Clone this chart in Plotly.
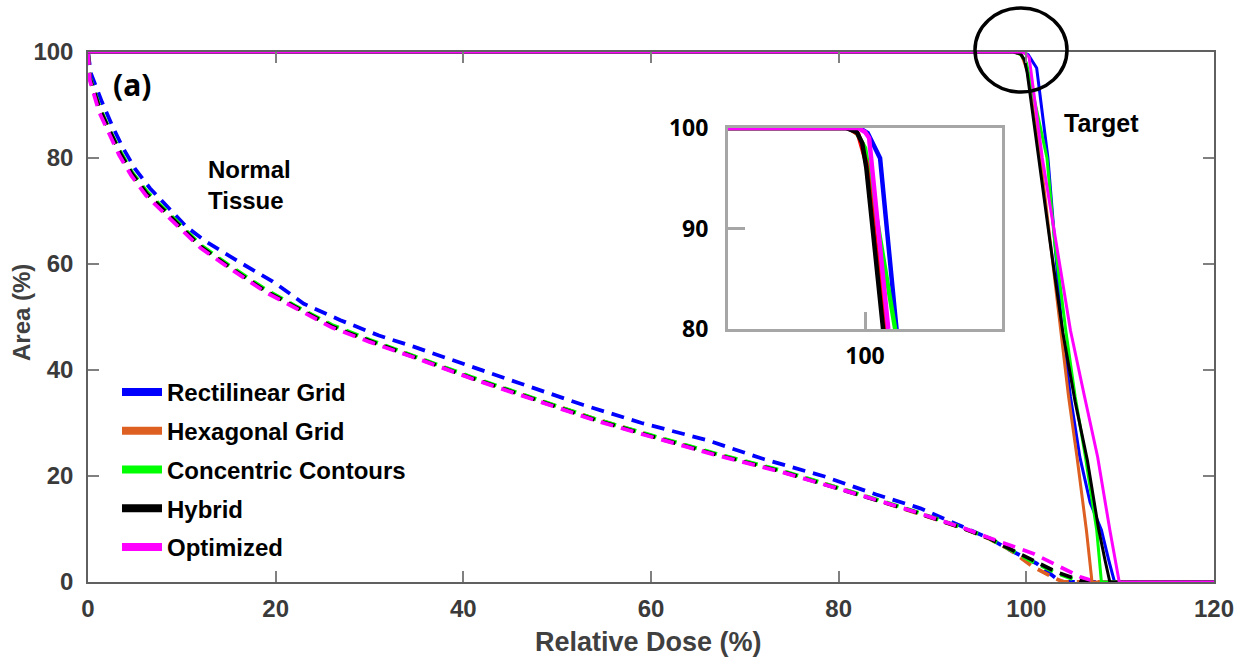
import plotly.graph_objects as go

# ---- dose-area histogram data (relative dose %, area %) ----
series_names = ["Rectilinear Grid", "Hexagonal Grid", "Concentric Contours", "Hybrid", "Optimized"]
series_colors = ["#0000FF", "#DD5F22", "#00FF00", "#000000", "#FF00FF"]
inset_colors = ["#0000FF", "#FF0000", "#00FF00", "#000000", "#FF00FF"]

# Target (solid curves)
rect_tx = [0, 99.6, 100.2, 101.1, 102.3, 103.0, 103.8, 104.7, 105.7, 106.8, 108.0, 108.8, 109.4, 120]
rect_ty = [100, 100, 99.5, 97, 80, 64, 47.5, 35, 23.6, 15, 9.8, 4, 0, 0]
hex_tx = [0, 98.8, 99.5, 100.1, 101.5, 102.5, 103.6, 104.5, 105.4, 106.0, 106.4, 107.0, 120]
hex_ty = [100, 100, 99.4, 96.5, 80, 65, 47.5, 35, 23.6, 15, 9.8, 0, 0]
conc_tx = [0, 98.8, 99.4, 100.0, 102.2, 103.0, 104.2, 105.2, 106.3, 107.5, 108.0, 120]
conc_ty = [100, 100, 99.5, 98, 80, 64.5, 47.5, 35, 23.6, 9.8, 0, 0]
hyb_tx = [0, 98.6, 99.4, 99.8, 100.1, 101.3, 102.5, 103.9, 105.2, 106.5, 107.7, 108.4, 108.9, 120]
hyb_ty = [100, 100, 99.6, 98.5, 96, 80, 64.5, 47, 34, 23, 10, 4, 0, 0]
opt_tx = [0, 99.5, 100.0, 100.3, 101.7, 103.1, 104.7, 106.2, 107.6, 108.9, 109.4, 109.9, 120]
opt_ty = [100, 100, 99.6, 99, 80, 64.5, 47.5, 35, 23.6, 9.8, 5, 0, 0]

# Normal tissue (dashed curves)
rect_nx = [0, 0.3, 1.5, 2.6, 3.7, 5, 6.6, 8.6, 10.5, 12.6, 16, 19.7, 23, 26.9, 31, 34.7, 40, 46, 52.8,
           59, 65.9, 72, 78.5, 84, 88.7, 93.3, 96.1, 98.6, 101.1, 103.4, 104, 120]
rect_ny = [100, 96, 90.5, 86, 82, 78, 74.3, 70.5, 67, 64.2, 60.5, 56.7, 52.5, 49.4, 46.5, 44.4, 41.1, 37.5, 33.4,
           30, 26.8, 23.2, 19.9, 16.5, 13.9, 10.3, 8.2, 5.7, 3.5, 0.4, 0, 0]
hex_nx = [0, 0.2, 1.3, 2.3, 3.4, 4.7, 6.3, 8.4, 10.5, 12, 15, 19, 22, 26, 30, 34.7, 41, 47, 54,
          60, 67, 74, 80.5, 84, 88, 93.3, 96.1, 98.3, 100.6, 102.9, 104, 120]
hex_ny = [100, 95, 89, 85, 81.2, 76.6, 73.2, 69.4, 65.8, 63.3, 59.6, 54.9, 51.9, 48.3, 45.4, 42.6, 38.4, 34.9, 30.8,
          27.6, 24.1, 20.8, 17.5, 15.5, 13.2, 10.1, 8.1, 6.0, 3.0, 0.8, 0, 0]
conc_nx = [0, 0.2, 1.3, 2.3, 3.4, 4.7, 6.3, 8.4, 10.5, 12, 15, 19, 22, 26, 30, 34.7, 41, 47, 54,
           60, 67, 74, 80.5, 84, 88, 93.3, 96.1, 98.3, 100.7, 103.2, 105.5, 106.2, 120]
conc_ny = [100, 95.2, 89.3, 85.3, 81.4, 77.3, 73.6, 70.0, 66.3, 63.6, 59.8, 55.1, 52.2, 48.5, 45.7, 42.7, 38.6, 35.0, 30.8,
           27.7, 24.2, 21.0, 17.6, 15.6, 13.4, 10.2, 8.2, 6.0, 3.8, 1.7, 0.2, 0, 0]
hyb_nx = [0, 0.2, 1.3, 2.3, 3.4, 4.7, 6.3, 8.4, 10.5, 12, 15, 19, 22, 26, 30, 34.7, 41, 47, 54,
          60, 67, 74, 80.5, 84, 88, 93.3, 96.1, 98.3, 100.7, 103.2, 105.7, 106.5, 120]
hyb_ny = [100, 95, 89, 85, 81, 77, 73.2, 69.6, 66, 63.3, 59.5, 54.8, 52, 48.2, 45.5, 42.5, 38.4, 34.8, 30.6,
          27.5, 24, 20.8, 17.4, 15.5, 13.3, 10.1, 8.2, 6.2, 4.0, 1.9, 0.3, 0, 0]
opt_nx = [0, 0.2, 1.2, 2.2, 3.3, 4.6, 6.2, 8.3, 10.4, 12, 15, 19, 22, 26, 30, 34.7, 41, 47, 54,
          60, 67, 74, 80.5, 84, 88, 93.3, 96.1, 98.3, 100.7, 103.2, 105.7, 107.5, 120]
opt_ny = [100, 94.6, 88.6, 84.6, 80.6, 76.7, 72.9, 69.3, 65.7, 63.0, 59.3, 54.6, 51.8, 48.0, 45.3, 42.4, 38.3, 34.7, 30.5,
          27.4, 23.9, 20.7, 17.4, 15.5, 13.3, 10.2, 8.3, 7.0, 5.4, 3.2, 1.0, 0, 0]

target_x = [rect_tx, hex_tx, conc_tx, hyb_tx, opt_tx]
target_y = [rect_ty, hex_ty, conc_ty, hyb_ty, opt_ty]
normal_x = [rect_nx, hex_nx, conc_nx, hyb_nx, opt_nx]
normal_y = [rect_ny, hex_ny, conc_ny, hyb_ny, opt_ny]

x_ticks = [0, 20, 40, 60, 80, 100, 120]
y_ticks = [0, 20, 40, 60, 80, 100]
inset_x_ticks = [100]
inset_y_ticks = [80, 90, 100]

# ---- geometry (pixels) ----
W, H = 1244, 664
ML, MR, MT, MB = 70, 10, 30, 60
PW, PH = W - ML - MR, H - MT - MB


def px_x(p):
    return (p - ML) / PW


def px_y(p):
    return (H - MB - p) / PH


# main frame: x 0..120 at px 88..1214, y 0..100 at px 582..52
FX0, FX1, FY0, FY1 = 88, 1214, 582, 52
sx = (FX1 - FX0) / 120.0
sy = (FY0 - FY1) / 100.0
data_xr = [(ML - FX0) / sx, (ML + PW - FX0) / sx]
data_yr = [(FY0 - (MT + PH)) / sy, (FY0 - MT) / sy]

# inset frame: x 90..110 at px 728..1002, y 80..100 at px 329..128
IX0, IX1, IY0, IY1 = 728, 1002, 329, 128
isx = (IX1 - IX0) / 20.0
isy = (IY0 - IY1) / 20.0
pad_l, pad_r, pad_b, pad_t = 1.5, 4, 1.5, 4

FONT = "Liberation Sans, Arial, sans-serif"
INSET_FONT = "Noto Sans, Open Sans, sans-serif"

fig = go.Figure()

# dashed normal-tissue curves
for i in range(5):
    fig.add_trace(go.Scatter(
        x=normal_x[i], y=normal_y[i], mode="lines",
        line=dict(color=series_colors[i], width=3.8, dash="13px,8px"),
        showlegend=False, hoverinfo="skip", xaxis="x", yaxis="y"))

# solid target curves
for i in range(5):
    fig.add_trace(go.Scatter(
        x=target_x[i], y=target_y[i], mode="lines",
        line=dict(color=series_colors[i], width=3),
        showlegend=False, hoverinfo="skip", xaxis="x", yaxis="y"))

# legend entries
for i in range(5):
    fig.add_trace(go.Scatter(
        x=[None], y=[None], mode="lines", name=series_names[i],
        line=dict(color=series_colors[i], width=8),
        legendgroup="g%d" % i, showlegend=True, xaxis="x", yaxis="y"))

# frame axes for the main panel
fig.add_trace(go.Scatter(x=[None], y=[None], xaxis="x3", yaxis="y3", showlegend=False, hoverinfo="skip"))

# inset: zoom on the shoulder of the target curves
inset_order = [0, 2, 1, 3, 4]
for i in inset_order:
    fig.add_trace(go.Scatter(
        x=target_x[i], y=target_y[i], mode="lines",
        line=dict(color=inset_colors[i], width=4.5),
        showlegend=False, hoverinfo="skip", xaxis="x2", yaxis="y2"))
fig.add_trace(go.Scatter(x=[None], y=[None], xaxis="x4", yaxis="y4", showlegend=False, hoverinfo="skip"))

hidden = dict(visible=False, showgrid=False, zeroline=False, fixedrange=True)

fig.update_layout(
    width=W, height=H,
    margin=dict(l=ML, r=MR, t=MT, b=MB, autoexpand=False),
    paper_bgcolor="white", plot_bgcolor="rgba(0,0,0,0)",
    font=dict(family=FONT, size=24, color="#3a3a3a"),
    xaxis=dict(hidden, domain=[0, 1], range=data_xr, anchor="y"),
    yaxis=dict(hidden, domain=[0, 1], range=data_yr, anchor="x"),
    xaxis3=dict(domain=[px_x(FX0), px_x(FX1)], range=[0, 120], anchor="y3",
                showgrid=False, zeroline=False, showline=True, linecolor="#606060", linewidth=1.5,
                mirror="ticks", ticks="inside", ticklen=11, tickwidth=1.5, tickcolor="#808080",
                tickvals=x_ticks, ticklabelstandoff=4,
                tickfont=dict(family=FONT, size=24, color="#3a3a3a", weight="bold")),
    yaxis3=dict(domain=[px_y(FY0), px_y(FY1)], range=[0, 100], anchor="x3",
                showgrid=False, zeroline=False, showline=True, linecolor="#606060", linewidth=1.5,
                mirror="ticks", ticks="inside", ticklen=11, tickwidth=1.5, tickcolor="#808080",
                tickvals=y_ticks, ticklabelstandoff=8,
                tickfont=dict(family=FONT, size=24, color="#3a3a3a", weight="bold")),
    xaxis2=dict(hidden, anchor="y2",
                domain=[px_x(IX0 - pad_l), px_x(IX1 + pad_r)],
                range=[90 - pad_l / isx, 110 + pad_r / isx]),
    yaxis2=dict(hidden, anchor="x2",
                domain=[px_y(IY0 + pad_b), px_y(IY1 - pad_t)],
                range=[80 - pad_b / isy, 100 + pad_t / isy]),
    xaxis4=dict(domain=[px_x(IX0), px_x(IX1)], range=[90, 110], anchor="y4",
                showgrid=False, zeroline=False, showline=True, linecolor="#A6A6A6", linewidth=3,
                mirror=True, ticks="inside", ticklen=17, tickwidth=3, tickcolor="#A6A6A6",
                tickvals=inset_x_ticks, ticklabelstandoff=4,
                tickfont=dict(family=INSET_FONT, size=23, color="#000000", weight="bold")),
    yaxis4=dict(domain=[px_y(IY0), px_y(IY1)], range=[80, 100], anchor="x4",
                showgrid=False, zeroline=False, showline=True, linecolor="#A6A6A6", linewidth=3,
                mirror=True, ticks="inside", ticklen=17, tickwidth=3, tickcolor="#A6A6A6",
                tickvals=inset_y_ticks, ticklabelstandoff=12,
                tickfont=dict(family=INSET_FONT, size=23, color="#000000", weight="bold")),
    legend=dict(x=px_x(117), y=px_y(370), xanchor="left", yanchor="top",
                bgcolor="rgba(0,0,0,0)", borderwidth=0, itemwidth=40,
                tracegroupgap=4.5,
                font=dict(family=FONT, size=24, color="#000000", weight="bold")),
    showlegend=True,
)

annotations = [
    dict(text="Relative Dose (%)", x=px_x(648), y=px_y(642), xref="paper", yref="paper",
         showarrow=False, xanchor="center", yanchor="middle",
         font=dict(family=FONT, size=27, color="#404040", weight="bold")),
    dict(text="Area (%)", x=px_x(22), y=px_y(313), xref="paper", yref="paper",
         showarrow=False, xanchor="center", yanchor="middle", textangle=-90,
         font=dict(family=FONT, size=24, color="#404040", weight="bold")),
    dict(text="(a)", x=px_x(132), y=px_y(84), xref="paper", yref="paper",
         showarrow=False, xanchor="center", yanchor="middle",
         font=dict(family=INSET_FONT, size=30, color="#000000", weight="bold")),
    dict(text="Normal<br>Tissue", x=px_x(206), y=px_y(154), xref="paper", yref="paper",
         showarrow=False, xanchor="left", yanchor="top", align="left",
         font=dict(family=FONT, size=24, color="#000000", weight="bold")),
    dict(text="Target", x=px_x(1101), y=px_y(123), xref="paper", yref="paper",
         showarrow=False, xanchor="center", yanchor="middle",
         font=dict(family=FONT, size=25, color="#000000", weight="bold")),
]
fig.update_layout(annotations=annotations)

# highlight ring around the shoulder of the target curves
fig.add_shape(type="circle", xref="paper", yref="paper",
              x0=px_x(975), x1=px_x(1067), y0=px_y(92), y1=px_y(8),
              line=dict(color="#000000", width=3.5), fillcolor="rgba(0,0,0,0)")

fig.write_html("out.html")
